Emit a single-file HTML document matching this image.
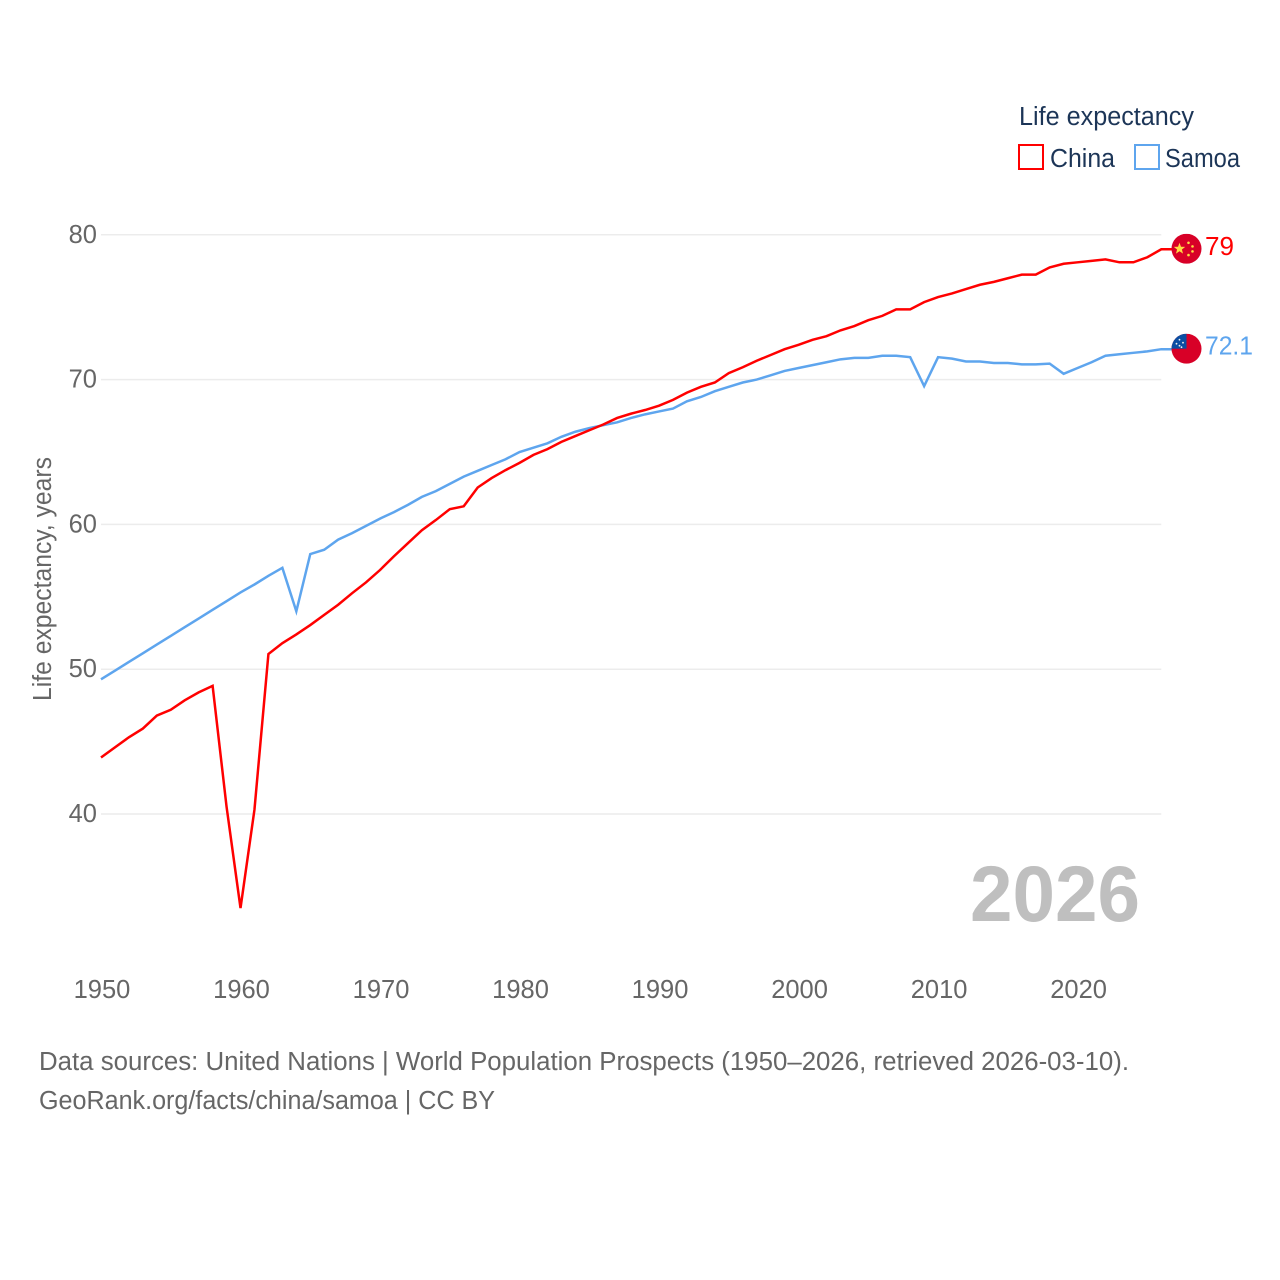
<!DOCTYPE html>
<html lang="en">
<head>
<meta charset="utf-8">
<title>Life expectancy: China and Samoa</title>
<style>
html,body{margin:0;padding:0;background:#fff;width:1280px;height:1280px;overflow:hidden}
svg{display:block}
text{font-family:"Liberation Sans",sans-serif}
</style>
</head>
<body>
<svg id="chart" xmlns="http://www.w3.org/2000/svg" width="1280" height="1280" viewBox="0 0 1280 1280">
  <defs>
    <clipPath id="flag-clip-china"><circle id="clip-china" r="15"/></clipPath>
    <clipPath id="flag-clip-samoa"><circle id="clip-samoa" r="15"/></clipPath>
  </defs>
  <g id="grid"></g>
  <g id="yticks"></g>
  <g id="xticks"></g>
  <g id="series"></g>
  <g id="ends"></g>

  <text transform="translate(51,701) rotate(-90)" font-size="25.5" fill="#666" textLength="244" lengthAdjust="spacingAndGlyphs">Life expectancy, years</text>

  <text x="970" y="921" font-size="79" font-weight="700" fill="#bfbfbf" textLength="170" lengthAdjust="spacingAndGlyphs">2026</text>

  <g>
    <text x="1019" y="125" font-size="25.5" fill="#1c3557" textLength="175" lengthAdjust="spacingAndGlyphs">Life expectancy</text>
    <g>
      <rect x="1019" y="145" width="24" height="24" fill="#fff" stroke="#ff0000" stroke-width="2"/>
      <text x="1050" y="167" font-size="25.5" fill="#1c3557" textLength="65" lengthAdjust="spacingAndGlyphs">China</text>
    </g>
    <g>
      <rect x="1135" y="145" width="24" height="24" fill="#fff" stroke="#5ea5ee" stroke-width="2"/>
      <text x="1165" y="167" font-size="25.5" fill="#1c3557" textLength="75" lengthAdjust="spacingAndGlyphs">Samoa</text>
    </g>
  </g>

  <g>
    <text x="39" y="1070" font-size="25.5" fill="#666" textLength="1090" lengthAdjust="spacingAndGlyphs">Data sources: United Nations | World Population Prospects (1950–2026, retrieved 2026-03-10).</text>
    <text x="39" y="1109" font-size="25.5" fill="#666" textLength="456" lengthAdjust="spacingAndGlyphs">GeoRank.org/facts/china/samoa | CC BY</text>
  </g>
</svg>
<script>
const startYear = 1950;
const endYear = 2026;
const xTickValues = [1950,1960,1970,1980,1990,2000,2010,2020];
const yTickValues = [40,50,60,70,80];
const chinaValues = [43.9,44.6,45.3,45.9,46.8,47.2,47.85,48.4,48.85,40.5,33.5,40.3,51.05,51.8,52.4,53.05,53.75,54.45,55.25,56,56.85,57.8,58.7,59.6,60.3,61.05,61.25,62.55,63.2,63.75,64.25,64.8,65.2,65.7,66.1,66.5,66.9,67.35,67.65,67.9,68.2,68.6,69.1,69.5,69.8,70.45,70.85,71.3,71.7,72.1,72.4,72.75,73,73.4,73.7,74.1,74.4,74.85,74.85,75.35,75.7,75.95,76.25,76.55,76.75,77,77.25,77.25,77.75,78,78.1,78.2,78.3,78.1,78.1,78.45,79];
const samoaValues = [49.3,49.9,50.5,51.1,51.7,52.3,52.9,53.5,54.1,54.7,55.3,55.85,56.45,57,54,57.95,58.25,58.95,59.4,59.9,60.4,60.85,61.35,61.9,62.3,62.8,63.3,63.7,64.1,64.5,65,65.3,65.6,66.05,66.4,66.65,66.85,67.05,67.35,67.6,67.8,68,68.5,68.8,69.2,69.5,69.8,70,70.3,70.6,70.8,71,71.2,71.4,71.5,71.5,71.65,71.65,71.55,69.55,71.55,71.45,71.25,71.25,71.15,71.15,71.05,71.05,71.1,70.4,70.8,71.2,71.65,71.75,71.85,71.95,72.1];
const chinaLabel = "79";
const samoaLabel = "72.1";

const NS = "http://www.w3.org/2000/svg";
function xScale(year){ return 101 + (year - 1950) * (1161.3 - 101) / 76; }
function yScale(v){ return 814 - (v - 40) * 14.48; }
function make(tag, attrs, parent){
  const el = document.createElementNS(NS, tag);
  for (const k in attrs) el.setAttribute(k, attrs[k]);
  parent.appendChild(el);
  return el;
}
const gridG = document.getElementById("grid");
const yG = document.getElementById("yticks");
const xG = document.getElementById("xticks");
const seriesG = document.getElementById("series");
const endsG = document.getElementById("ends");

yTickValues.forEach(function(v){
  const line = make("line", {x1:xScale(startYear), x2:xScale(endYear), y1:yScale(v), y2:yScale(v), stroke:"#ececec", "stroke-width":1.5}, gridG);
  
  
  const t = make("text", {x:97, y:yScale(v)+8, "text-anchor":"end", "font-size":25.5, fill:"#666"}, yG);
  
  
  t.textContent = v;
});
xTickValues.forEach(function(y){
  const t = make("text", {x:xScale(y)+1, y:998, "text-anchor":"middle", "font-size":25.5, fill:"#666"}, xG);
  
  
  t.textContent = y;
});
function drawLine(values, color, name){
  const pts = values.map(function(v,i){ return xScale(startYear+i).toFixed(2)+","+yScale(v).toFixed(2); });
  pts.push((xScale(endYear)+12).toFixed(2)+","+yScale(values[values.length-1]).toFixed(2));
  const p = make("polyline", {points:pts.join(" "), fill:"none", stroke:color, "stroke-width":2.5, "stroke-linejoin":"miter"}, seriesG);
  
  
}
drawLine(samoaValues, "#5ea5ee", "series-line-samoa");
drawLine(chinaValues, "#ff0000", "series-line-china");

const flagX = 1186.5;
function starPoints(cx, cy, r){
  const out = [];
  for (let i = 0; i < 10; i++){
    const rad = i % 2 ? r * 0.42 : r;
    const a = -Math.PI/2 + i * Math.PI/5;
    out.push((cx + rad*Math.cos(a)).toFixed(2) + "," + (cy + rad*Math.sin(a)).toFixed(2));
  }
  return out.join(" ");
}
function endLabel(value, text, color, name){
  const t = make("text", {x:1205, y:yScale(value)+5.5, "font-size":26, fill:color, textLength:text.length > 2 ? 48 : 29, lengthAdjust:"spacingAndGlyphs"}, endsG);
  
  
  t.textContent = text;
}
const chinaY = yScale(chinaValues[chinaValues.length-1]) - 0.5;
const samoaY = yScale(samoaValues[samoaValues.length-1]) - 0.5;
document.getElementById("clip-china").setAttribute("cx", flagX);
document.getElementById("clip-china").setAttribute("cy", chinaY);
document.getElementById("clip-samoa").setAttribute("cx", flagX);
document.getElementById("clip-samoa").setAttribute("cy", samoaY);

const chinaFlag = make("g", {"clip-path":"url(#flag-clip-china)"}, endsG);


make("rect", {x:flagX-15, y:chinaY-15, width:30, height:30, fill:"#d80027"}, chinaFlag);
make("polygon", {points:starPoints(flagX-7, chinaY, 6), fill:"#ffda44"}, chinaFlag);
[[2,-6],[6,-2.4],[6,2.6],[2,6.3]].forEach(function(o){
  make("circle", {cx:flagX+o[0], cy:chinaY+o[1], r:1.3, fill:"#ffda44"}, chinaFlag);
});

const samoaFlag = make("g", {"clip-path":"url(#flag-clip-samoa)"}, endsG);


make("rect", {x:flagX-15, y:samoaY-15, width:30, height:30, fill:"#d80027"}, samoaFlag);
make("rect", {x:flagX-15, y:samoaY-15, width:15, height:15, fill:"#0b4ea2"}, samoaFlag);
[[-10,-5],[-7,-9],[-7,-3],[-3.5,-6],[-5,-1.5]].forEach(function(o){
  make("circle", {cx:flagX+o[0], cy:samoaY+o[1], r:0.9, fill:"#f0f0f0"}, samoaFlag);
});

endLabel(chinaValues[chinaValues.length-1], chinaLabel, "#ff0000", "end-label-china");
endLabel(samoaValues[samoaValues.length-1], samoaLabel, "#5ea5ee", "end-label-samoa");
</script>
</body>
</html>
